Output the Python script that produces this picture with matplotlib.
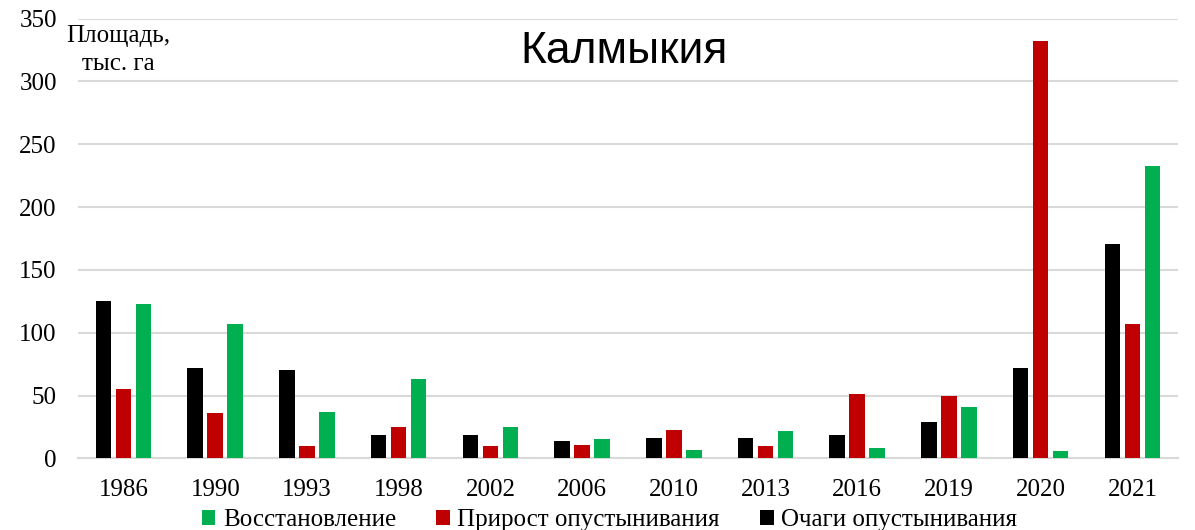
import numpy as np
import matplotlib.pyplot as plt

years = ['1986', '1990', '1993', '1998', '2002', '2006', '2010', '2013', '2016', '2019', '2020', '2021']
ochagi = [125, 72, 70, 18.5, 18.5, 13.5, 16.5, 16.5, 18.5, 29, 72, 171]
prirost = [55, 36, 10, 25, 10, 11, 23, 10, 51, 50, 332, 107]
vosst = [123, 107, 37, 63, 25, 15.5, 7, 22, 8, 41, 5.7, 233]

serif = 'Liberation Serif'

fig = plt.figure(figsize=(11.95, 5.3), dpi=100)
ax = fig.add_axes([0.065, 0.135, 0.921, 0.83])

x = np.arange(len(years))
w = 0.17
step = 0.218
b1 = ax.bar(x - step, ochagi, w, color='#000000', label='Очаги опустынивания', zorder=3)
b2 = ax.bar(x, prirost, w, color='#C00000', label='Прирост опустынивания', zorder=3)
b3 = ax.bar(x + step, vosst, w, color='#00B050', label='Восстановление', zorder=3)

ax.set_ylim(0, 350)
ax.set_xlim(-0.5, len(years) - 0.5)
ax.set_yticks(np.arange(0, 351, 50))
ax.set_xticks(x)
ax.set_xticklabels(years)
ax.yaxis.grid(True, color='#d9d9d9', linewidth=1.5, zorder=0)
for s in ['top', 'right', 'left']:
    ax.spines[s].set_visible(False)
ax.spines['bottom'].set_color('#d9d9d9')
ax.spines['bottom'].set_linewidth(1.5)
ax.tick_params(length=0)
ax.tick_params(axis='y', pad=15)
ax.tick_params(axis='x', pad=15)
for lab in ax.get_xticklabels() + ax.get_yticklabels():
    lab.set_fontfamily(serif)
    lab.set_fontsize(18)

fig.text(0.522, 0.902, 'Калмыкия', ha='center', va='center', fontsize=32, family='Liberation Sans')
fig.text(0.099, 0.932, 'Площадь,', ha='center', va='center', fontsize=18, family=serif)
fig.text(0.099, 0.879, 'тыс. га', ha='center', va='center', fontsize=18, family=serif)

fig.legend([b3, b2, b1], ['Восстановление', 'Прирост опустынивания', 'Очаги опустынивания'],
           loc='lower center', bbox_to_anchor=(0.51, -0.045), ncol=3, frameon=False,
           prop={'family': serif, 'size': 18}, handlelength=0.55, handleheight=0.55,
           handletextpad=0.3, columnspacing=1.6)

fig.savefig('out.png', dpi=100)
